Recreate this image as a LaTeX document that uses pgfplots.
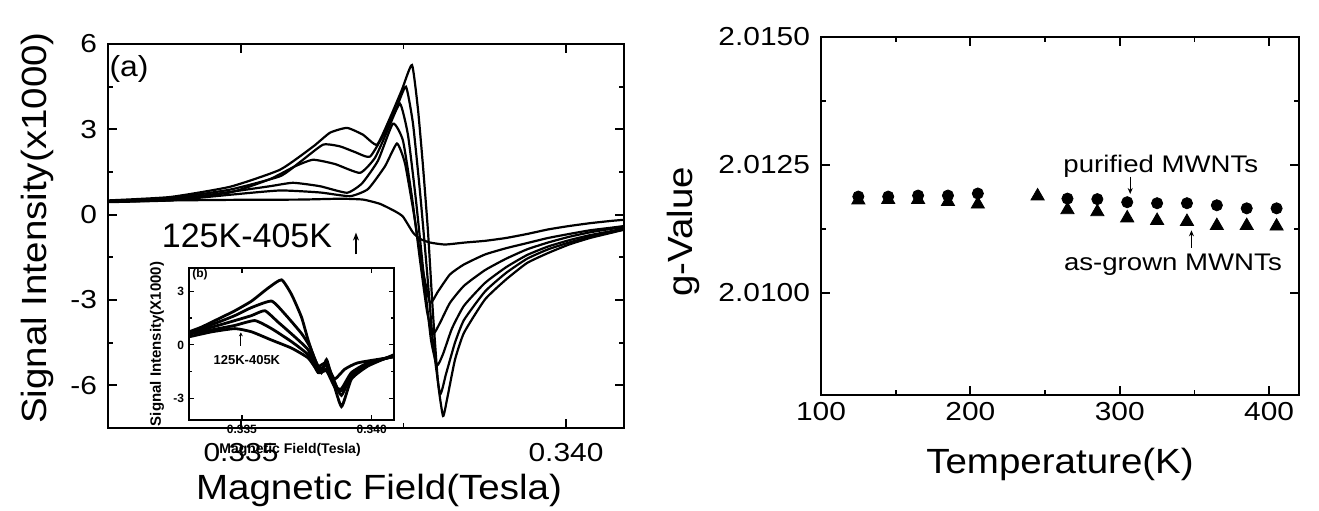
\documentclass[border=0pt]{standalone}
\usepackage{fontspec}
\setmainfont{Liberation Sans}
\newfontfamily\tickfont{Liberation Sans}[FakeStretch=1.15]
\newfontfamily\labfont{Liberation Sans}[FakeStretch=1.1]
\usepackage{pgfplots}
\pgfplotsset{compat=1.18}
\usetikzlibrary{arrows.meta}
\pgfplotsset{
  panel/.style={scale only axis, anchor=south west, clip=false,
    tick align=inside, scaled ticks=false,
    axis line style={line width=1pt},
    every tick/.style={black, line width=0.9pt},
    major tick length=4.5pt, minor tick length=2.5pt,
    tick label style={font=\tickfont\fontsize{13}{13}\selectfont},
  },
  crv/.style={black, line width=1.1pt, smooth, tension=0.3, no markers},
  icrv/.style={black, line width=1.4pt, smooth, tension=0.3, no markers},
}
\begin{document}
\begin{tikzpicture}
\useasboundingbox (0,0) rectangle (659.5pt,255pt);
% ---------------- main panel (a)
\begin{axis}[panel, at={(54pt,41pt)}, width=258pt, height=192pt,
  xmin=0.332954, xmax=0.340892, ymin=-7.5, ymax=6,
  xtick={0.335,0.340}, xticklabels={0.335,0.340},
  ytick={-6,-3,0,3,6}, yticklabels={-6,-3,0,3,6},
  minor x tick num=1, minor y tick num=1,
  xticklabel style={yshift=-4pt}, yticklabel style={xshift=-2pt}]
% curve A
\addplot[crv] coordinates {(0.332954,0.50) (0.333908,0.62) (0.334831,0.98) (0.335600,1.58) (0.336108,2.39) (0.336369,2.88) (0.336631,3.05) (0.336877,2.81) (0.337092,2.46) (0.337292,3.40) (0.337477,4.40) (0.337631,5.26) (0.337723,3.70) (0.337800,1.70) (0.337877,-0.60) (0.337954,-3.50) (0.338031,-5.90) (0.338108,-7.08) (0.338169,-6.50) (0.338292,-5.10) (0.338431,-4.15) (0.338754,-2.98) (0.339077,-2.28) (0.339400,-1.70) (0.339723,-1.35) (0.340046,-1.05) (0.340369,-0.82) (0.340692,-0.64) (0.340892,-0.53)};
% curve B
\addplot[crv] coordinates {(0.332954,0.47) (0.333908,0.58) (0.334831,0.88) (0.335600,1.35) (0.335908,1.85) (0.336262,2.46) (0.336523,2.40) (0.336754,2.20) (0.336985,2.04) (0.337215,2.90) (0.337400,3.80) (0.337538,4.50) (0.337646,3.20) (0.337754,0.80) (0.337862,-2.00) (0.337954,-4.50) (0.338062,-6.30) (0.338154,-5.60) (0.338292,-4.50) (0.338431,-3.70) (0.338754,-2.70) (0.339077,-2.05) (0.339400,-1.55) (0.339723,-1.22) (0.340046,-0.98) (0.340369,-0.78) (0.340692,-0.62) (0.340892,-0.52)};
% curve C
\addplot[crv] coordinates {(0.332954,0.46) (0.333908,0.55) (0.334831,0.78) (0.335446,1.25) (0.335831,1.70) (0.336108,1.93) (0.336446,1.78) (0.336831,1.47) (0.337062,2.00) (0.337262,3.00) (0.337446,3.90) (0.337569,2.80) (0.337692,0.50) (0.337815,-2.20) (0.337923,-4.40) (0.338015,-5.30) (0.338108,-4.90) (0.338246,-4.00) (0.338431,-3.20) (0.338754,-2.40) (0.339077,-1.85) (0.339400,-1.42) (0.339723,-1.12) (0.340046,-0.90) (0.340369,-0.72) (0.340692,-0.58) (0.340892,-0.48)};
% curve D
\addplot[crv] coordinates {(0.332954,0.45) (0.333908,0.52) (0.334831,0.80) (0.335446,1.00) (0.335800,1.12) (0.336215,1.00) (0.336631,0.77) (0.336862,1.10) (0.337108,1.90) (0.337338,3.20) (0.337492,2.60) (0.337631,0.60) (0.337754,-1.60) (0.337862,-3.40) (0.337954,-4.20) (0.338062,-3.80) (0.338215,-3.10) (0.338431,-2.50) (0.338754,-1.95) (0.339077,-1.55) (0.339400,-1.22) (0.339723,-0.98) (0.340046,-0.78) (0.340369,-0.62) (0.340692,-0.50) (0.340892,-0.43)};
% curve E
\addplot[crv] coordinates {(0.332954,0.44) (0.333908,0.50) (0.334831,0.70) (0.335600,0.85) (0.336215,0.78) (0.336677,0.65) (0.336954,0.90) (0.337215,1.70) (0.337400,2.50) (0.337523,1.80) (0.337662,0.00) (0.337785,-1.80) (0.337908,-3.09) (0.338031,-2.70) (0.338215,-2.10) (0.338431,-1.75) (0.338754,-1.40) (0.339077,-1.18) (0.339400,-1.00) (0.339723,-0.82) (0.340046,-0.68) (0.340369,-0.55) (0.340692,-0.46) (0.340892,-0.40)};
% broad curve G
\addplot[crv] coordinates {(0.332954,0.47) (0.333908,0.50) (0.334831,0.52) (0.335908,0.53) (0.336523,0.56) (0.336877,0.53) (0.337138,0.38) (0.337369,0.12) (0.337492,-0.07) (0.337646,-0.63) (0.337754,-0.85) (0.337908,-0.98) (0.338138,-1.05) (0.338446,-0.98) (0.338754,-0.92) (0.339077,-0.82) (0.339400,-0.68) (0.339723,-0.52) (0.340046,-0.40) (0.340369,-0.30) (0.340692,-0.22) (0.340892,-0.18)};
\node[font=\labfont\fontsize{14.5}{14.5}\selectfont] at (axis cs:0.333277,5.12) {(a)};
\node[font=\fontsize{17}{17}\selectfont] at (axis cs:0.335092,-0.74) {125K-405K};
\draw[-{Stealth[length=4pt,width=3pt]}, line width=0.8pt] (axis cs:0.336769,-1.40) -- (axis cs:0.336769,-0.63);
\end{axis}
% ---------------- inset (b)
\begin{axis}[panel, at={(94.5pt,45pt)}, width=102.5pt, height=76pt,
  axis background/.style={fill=white},
  xmin=0.332962, xmax=0.340858, ymin=-4.2, ymax=4.3,
  xtick={0.335,0.340}, xticklabels={0.335,0.340},
  ytick={-3,0,3}, yticklabels={-3,0,3},
  axis line style={line width=0.8pt},
  every tick/.style={black, line width=0.6pt},
  major tick length=2.5pt, minor tick length=1.5pt,
  minor y tick num=1,
  tick label style={font=\bfseries\fontsize{6}{6}\selectfont},
  xticklabel style={yshift=1pt}, yticklabel style={xshift=1pt}]
\addplot[icrv] coordinates {(0.332962,0.73) (0.333450,1.00) (0.334088,1.45) (0.334731,1.91) (0.335373,2.45) (0.336012,3.18) (0.336527,3.64) (0.336912,2.82) (0.337296,1.55) (0.337550,0.27) (0.337808,-0.82) (0.338065,-1.55) (0.338258,-0.82) (0.338450,-1.73) (0.338835,-3.45) (0.339219,-1.91) (0.339858,-1.18) (0.340858,-0.55)};
\addplot[icrv] coordinates {(0.332962,0.67) (0.334088,1.27) (0.334731,1.64) (0.335373,2.09) (0.336142,2.45) (0.336654,1.73) (0.337296,0.64) (0.337615,-0.09) (0.337935,-1.18) (0.338258,-1.00) (0.338577,-2.09) (0.338835,-2.82) (0.339219,-1.73) (0.339858,-1.09) (0.340858,-0.60)};
\addplot[icrv] coordinates {(0.332962,0.64) (0.334088,1.09) (0.334731,1.36) (0.335373,1.64) (0.335885,1.91) (0.336396,1.27) (0.337038,0.45) (0.337550,-0.27) (0.337935,-1.36) (0.338258,-1.18) (0.338577,-2.27) (0.338835,-2.55) (0.339219,-1.64) (0.339858,-1.04) (0.340858,-0.64)};
\addplot[icrv] coordinates {(0.332962,0.60) (0.334088,0.91) (0.334731,1.09) (0.335500,1.36) (0.336142,0.91) (0.336912,0.18) (0.337550,-0.55) (0.337935,-1.55) (0.338258,-1.45) (0.338577,-2.36) (0.338835,-2.45) (0.339219,-1.55) (0.339858,-1.00) (0.340858,-0.64)};
\addplot[icrv] coordinates {(0.332962,0.45) (0.333835,0.73) (0.334731,0.91) (0.335373,0.73) (0.336142,0.27) (0.336912,-0.18) (0.337550,-0.73) (0.337935,-1.45) (0.338319,-1.36) (0.338577,-1.91) (0.338962,-1.36) (0.339473,-1.00) (0.340858,-0.67)};
\node[font=\bfseries\fontsize{6}{6}\selectfont] at (axis cs:0.333385,3.93) {(b)};
\node[font=\bfseries\fontsize{6.5}{6.5}\selectfont] at (axis cs:0.335192,-0.84) {125K-405K};
\draw[-{Stealth[length=2pt,width=2pt]}, line width=0.6pt] (axis cs:0.33496,-0.05) -- (axis cs:0.33496,0.70);
\end{axis}
\node[rotate=90, font=\bfseries\fontsize{7.5}{7.5}\selectfont] at (78.5pt,83pt) {Signal Intensity(X1000)};
\node[font=\bfseries\fontsize{7}{7}\selectfont] at (145pt,30pt) {Magnetic Field(Tesla)};
% ---------------- right panel
\begin{axis}[panel, at={(410.5pt,57.5pt)}, width=239pt, height=179pt,
  xmin=100, xmax=420, ymin=2.0080, ymax=2.0150,
  xtick={100,200,300,400}, xticklabels={100,200,300,400},
  ytick={2.0100,2.0125,2.0150}, yticklabels={2.0100,2.0125,2.0150},
  minor x tick num=1, minor y tick num=1,
  yticklabel style={xshift=-2pt}]
\addplot[only marks, mark=triangle*, mark size=3.8pt, black] coordinates {(125,2.01181) (145,2.01182) (165,2.01182) (185,2.01178) (205,2.01173) (245,2.01189) (265,2.01162) (285,2.01158) (305,2.01146) (325,2.01141) (345,2.01139) (365,2.01131) (385,2.01131) (405,2.01130)};
\addplot[only marks, mark=*, mark size=2.8pt, black] coordinates {(125,2.01188) (145,2.01188) (165,2.01190) (185,2.01190) (205,2.01194) (265,2.01184) (285,2.01183) (305,2.01177) (325,2.01175) (345,2.01175) (365,2.01171) (385,2.01165) (405,2.01165)};
\node[font=\tickfont\fontsize{12}{12}\selectfont] at (axis cs:327.5,2.01248) {purified MWNTs};
\draw[-{Stealth[length=3pt,width=2.5pt]}, line width=0.6pt] (axis cs:307,2.01227) -- (axis cs:307,2.01193);
\node[font=\tickfont\fontsize{12}{12}\selectfont] at (axis cs:335.6,2.01055) {as-grown MWNTs};
\draw[-{Stealth[length=3pt,width=2.5pt]}, line width=0.6pt] (axis cs:348,2.01088) -- (axis cs:348,2.01122);
\end{axis}
% ---------------- axis titles
\node[rotate=90, font=\labfont\fontsize{17.5}{17.5}\selectfont] at (18.5pt,141pt) {Signal Intensity(x1000)};
\node[anchor=base, font=\labfont\fontsize{17.5}{17.5}\selectfont] at (189.5pt,5.5pt) {Magnetic Field(Tesla)};
\node[rotate=90, font=\labfont\fontsize{17.5}{17.5}\selectfont] at (341.5pt,139pt) {g-Value};
\node[anchor=base, font=\labfont\fontsize{17.5}{17.5}\selectfont] at (530pt,18.5pt) {Temperature(K)};
\end{tikzpicture}
\end{document}
